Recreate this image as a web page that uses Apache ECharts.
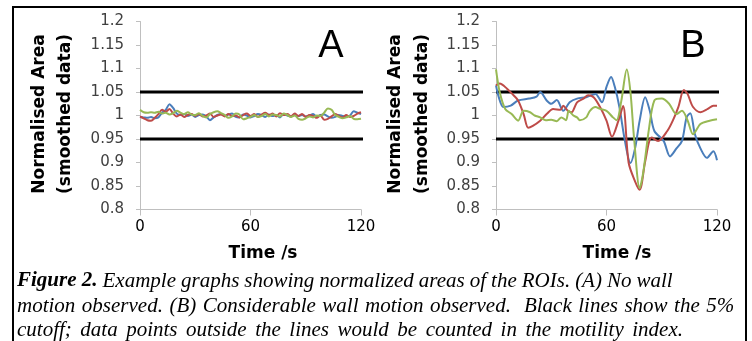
<!DOCTYPE html>
<html>
<head>
<meta charset="utf-8">
<script src="https://cdn.jsdelivr.net/npm/echarts@6/dist/echarts.min.js"></script>
<style>
  html, body { margin: 0; padding: 0; background: #fff; }
  #chart { width: 752px; height: 341px; }
</style>
</head>
<body>
<div id="chart"></div>
<script>
// panel A: no wall motion, sampled every 2 s
const timeA = [0, 2, 4, 6, 8, 10, 12, 14, 16, 18, 20, 22, 24, 26, 28, 30, 32, 34, 36, 38,
  40, 42, 44, 46, 48, 50, 52, 54, 56, 58, 60, 62, 64, 66, 68, 70, 72, 74, 76, 78,
  80, 82, 84, 86, 88, 90, 92, 94, 96, 98, 100, 102, 104, 106, 108, 110, 112, 114, 116, 118, 120];
const blueA = [0.997, 0.996, 0.995, 0.997, 0.994, 0.996, 1.006, 1.012, 1.024, 1.016, 1.004, 1.001, 1.003, 0.999, 1.002, 0.997, 1.001, 1.002, 0.998, 0.99,
  0.996, 1.001, 1.003, 0.999, 1.002, 1.004, 0.997, 0.996, 1.002, 1.0, 0.996, 0.999, 1.003, 1.001, 0.997, 1.002, 0.999, 1.001, 0.996, 1.003,
  1.0, 0.998, 1.002, 0.999, 1.001, 0.998, 1.0, 1.003, 0.997, 1.001, 1.002, 0.998, 0.995, 0.997, 1.001, 0.999, 0.998, 1.0, 1.009, 1.006, 1.003];
const redA = [0.998, 0.994, 0.99, 0.989, 0.995, 1.003, 1.012, 1.008, 1.014, 1.004, 0.998, 1.002, 0.997, 1.001, 1.003, 0.999, 1.003, 0.998, 1.0, 1.004,
  0.997, 1.0, 1.002, 0.998, 1.003, 0.999, 1.0, 0.996, 1.001, 1.004, 0.999, 1.003, 0.997, 1.002, 1.006, 1.001, 1.004, 0.998, 1.005, 1.001,
  1.003, 0.998, 1.004, 0.999, 1.003, 0.997, 1.001, 0.999, 0.995, 1.0, 0.991, 0.993, 0.998, 1.003, 0.999, 0.996, 1.001, 0.997, 0.999, 1.004, 1.007];
const greenA = [1.012, 1.007, 1.006, 1.007, 1.006, 1.008, 1.004, 1.006, 1.002, 1.005, 1.01, 1.006, 1.003, 1.007, 1.002, 1.001, 1.005, 0.999, 0.996, 1.003,
  1.007, 1.009, 1.005, 1.001, 0.995, 0.998, 1.004, 1.002, 0.992, 0.994, 0.997, 1.001, 0.997, 0.999, 1.003, 0.998, 1.002, 1.001, 0.998, 1.004,
  1.001, 0.997, 1.0, 0.993, 0.991, 0.994, 0.998, 0.996, 1.0, 0.999, 1.006, 1.015, 1.012, 1.001, 0.997, 0.994, 0.996, 0.999, 0.993, 0.992, 0.993];

// panel B: considerable wall motion
const blueTimeB = [0, 1.5, 4, 8, 12, 18, 22, 24, 27.5, 30, 33, 36.5, 40, 44, 49, 54, 57.5, 60, 62.5, 64.5,
  67, 70, 73, 75.5, 78, 81, 83.5, 86, 91, 94.5, 98, 101, 103.5, 105.5, 108, 111, 114.5, 118, 120];
const blueB = [1.064, 1.039, 1.018, 1.021, 1.032, 1.036, 1.04, 1.05, 1.032, 1.025, 1.033, 1.01, 1.028, 1.036, 1.039, 1.046, 1.028, 1.061, 1.082, 1.061,
  1.018, 0.946, 0.899, 0.93, 0.989, 1.039, 1.01, 0.967, 0.946, 0.913, 0.93, 0.946, 0.996, 1.005, 0.96, 0.93, 0.91, 0.924, 0.905];
const redTimeB = [0, 2, 6, 9.5, 12, 15, 17.5, 20, 24, 27.5, 31, 35, 36.5, 39, 41, 44, 47.5, 50, 53, 56.5,
  60, 63, 66.5, 69, 72, 75.5, 78, 81, 84.5, 88, 93, 96, 99, 102, 104, 107, 111, 115, 118, 120];
const redB = [1.064, 1.068, 1.057, 1.043, 1.032, 1.003, 0.974, 0.978, 0.989, 1.003, 1.014, 1.012, 1.021, 1.01, 1.007, 1.028, 1.036, 1.043, 1.039, 1.018,
  0.989, 0.955, 0.989, 1.02, 0.9, 0.86, 0.842, 0.902, 0.953, 0.946, 0.967, 0.989, 1.018, 1.054, 1.046, 1.018, 1.007, 1.014, 1.021, 1.021];
const greenTimeB = [0, 2, 5, 8.5, 12, 15, 18.5, 21, 24, 27, 30, 33, 35.5, 38, 39.5, 42, 44, 45.5, 49, 51,
  54, 56.5, 60, 63.5, 65.5, 68, 71, 73, 75, 78, 80, 83, 86, 90, 94, 98, 101, 104, 107, 111, 116, 120];
const greenB = [1.098, 1.05, 1.014, 1.003, 0.989, 1.01, 1.007, 1.0, 0.996, 0.99, 0.991, 0.988, 0.996, 0.99, 1.01, 1.0, 0.996, 0.99, 0.996, 1.01,
  1.018, 1.014, 1.01, 0.996, 0.99, 1.03, 1.098, 1.05, 0.95, 0.845, 0.88, 0.97, 1.032, 1.036, 1.025, 1.003, 1.01, 0.99, 0.96, 0.982, 0.989, 0.992];

// 5% cutoff
const cutoffs = [1.05, 0.95];

const captionLines = [
  'Example graphs showing normalized areas of the ROIs. (A) No wall',
  'motion observed. (B) Considerable wall motion observed.  Black lines show the 5%',
  'cutoff; data points outside the lines would be counted in the motility index.',
];

const colors = { blue: '#4a7ebb', red: '#be4b48', green: '#98b954' };
const pair = (t, v) => v.map((y, i) => [t[i], y]);

const chart = echarts.init(document.getElementById('chart'));

const yAxisBase = {
  type: 'value',
  min: 0.8,
  max: 1.2,
  interval: 0.05,
  axisLine: { show: true, lineStyle: { color: '#bfbfbf', width: 1 } },
  axisTick: { show: true, length: 4, lineStyle: { color: '#bfbfbf' } },
  splitLine: { show: false },
  axisLabel: { margin: 16, fontFamily: 'DejaVu Sans', fontSize: 15, color: '#404040' },
};
const xAxisBase = {
  type: 'value',
  min: 0,
  max: 120,
  interval: 60,
  axisLine: { show: true, lineStyle: { color: '#bfbfbf', width: 1 } },
  axisTick: { show: true, length: 6, lineStyle: { color: '#bfbfbf' } },
  splitLine: { show: false },
  axisLabel: { margin: 10, fontFamily: 'DejaVu Sans', fontSize: 15, color: '#000' },
};

function line(name, data, color, idx) {
  return {
    name, type: 'line', data, xAxisIndex: idx, yAxisIndex: idx,
    symbol: 'none', smooth: 0.3, lineStyle: { color, width: 2 }, itemStyle: { color },
    z: 3,
  };
}
function cutoff(v, idx) {
  return {
    type: 'line', data: [[0, v], [122, v]], xAxisIndex: idx, yAxisIndex: idx,
    symbol: 'none', clip: false, silent: true,
    lineStyle: { color: '#000', width: 3 }, z: 2,
  };
}

const series = [
  line('A blue', pair(timeA, blueA), colors.blue, 0),
  line('A red', pair(timeA, redA), colors.red, 0),
  line('A green', pair(timeA, greenA), colors.green, 0),
  line('B blue', pair(blueTimeB, blueB), colors.blue, 1),
  line('B red', pair(redTimeB, redB), colors.red, 1),
  line('B green', pair(greenTimeB, greenB), colors.green, 1),
];
cutoffs.forEach(v => { series.push(cutoff(v, 0)); series.push(cutoff(v, 1)); });

const titleFont = { fontFamily: 'DejaVu Sans', fontWeight: 'bold', fontSize: 17, fill: '#000' };
function yTitle(x, text) {
  return {
    type: 'text', x, y: 114, rotation: Math.PI / 2,
    style: Object.assign({ text, textAlign: 'center', textVerticalAlign: 'middle' }, titleFont),
  };
}

// caption: printed text is a little loose in the later lines, so widen the word gaps there
const capFont = { fontFamily: 'Liberation Serif', fontStyle: 'italic', fontSize: 21 };
function captionLine(y, text, gap, lead) {
  return {
    type: 'text', x: 17, y,
    style: {
      text: (lead || '') + text.split(' ').join('{s| }'),
      textVerticalAlign: 'middle',
      fill: '#000',
      ...capFont,
      rich: {
        s: { ...capFont, width: gap },
        b: { ...capFont, fontWeight: 'bold' },
      },
    },
  };
}

chart.setOption({
  animation: false,
  grid: [
    { left: 140, right: 391, top: 21.5, bottom: 131.5 },
    { left: 496, right: 35, top: 21.5, bottom: 131.5 },
  ],
  xAxis: [Object.assign({ gridIndex: 0 }, xAxisBase), Object.assign({ gridIndex: 1 }, xAxisBase)],
  yAxis: [Object.assign({ gridIndex: 0 }, yAxisBase), Object.assign({ gridIndex: 1 }, yAxisBase)],
  series,
  graphic: [
    { type: 'rect', shape: { x: 13, y: 7, width: 733, height: 345 }, style: { fill: 'none', stroke: '#000', lineWidth: 2 } },
    yTitle(40, 'Normalised Area'), yTitle(66, '(smoothed data)'),
    yTitle(396, 'Normalised Area'), yTitle(423, '(smoothed data)'),
    { type: 'text', x: 263, y: 254, style: Object.assign({ text: 'Time /s', textAlign: 'center', textVerticalAlign: 'middle' }, titleFont) },
    { type: 'text', x: 617, y: 254, style: Object.assign({ text: 'Time /s', textAlign: 'center', textVerticalAlign: 'middle' }, titleFont) },
    { type: 'text', x: 331, y: 47, style: { text: 'A', fontFamily: 'Liberation Sans', fontSize: 38, fill: '#000', textAlign: 'center', textVerticalAlign: 'middle' } },
    { type: 'text', x: 693, y: 47, style: { text: 'B', fontFamily: 'Liberation Sans', fontSize: 38, fill: '#000', textAlign: 'center', textVerticalAlign: 'middle' } },
    captionLine(281, captionLines[0], 5, '{b|Figure 2.}{s| }'),
    captionLine(306, captionLines[1], 6.5),
    captionLine(330, captionLines[2], 8.5),
  ],
});
</script>
</body>
</html>
